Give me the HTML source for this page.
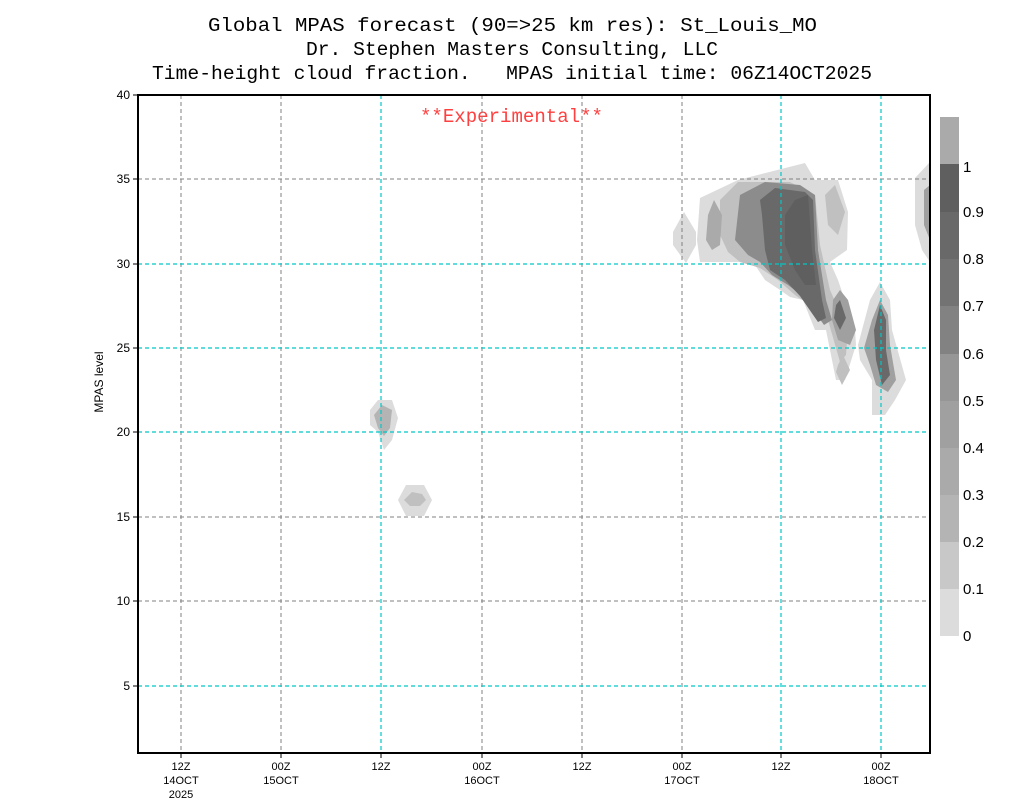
<!DOCTYPE html>
<html><head><style>
body{margin:0;background:#fff;}
svg{display:block;font-family:"Liberation Sans",sans-serif;}
</style></head><body>
<svg width="1024" height="800" viewBox="0 0 1024 800" xmlns="http://www.w3.org/2000/svg">
<rect width="1024" height="800" fill="#fff"/>
<g font-size="19" fill="#000" font-family="Liberation Mono, monospace">
<text x="208" y="31" textLength="609" lengthAdjust="spacingAndGlyphs">Global MPAS forecast (90=&gt;25 km res): St_Louis_MO</text>
<text x="306" y="55" textLength="412" lengthAdjust="spacingAndGlyphs">Dr. Stephen Masters Consulting, LLC</text>
<text x="152" y="79" textLength="720" lengthAdjust="spacingAndGlyphs" xml:space="preserve">Time-height cloud fraction.   MPAS initial time: 06Z14OCT2025</text>
</g>
<text x="420" y="122" font-size="19" fill="#ff4040" font-family="Liberation Mono, monospace" textLength="183" lengthAdjust="spacingAndGlyphs">**Experimental**</text>
<!-- clouds -->
<g>
<polygon points="673,232 684,212 696,232 696,245 686,263 673,245" fill="#dcdcdc"/>
<polygon points="700,198 738,180 805,163 815,180 828,180 838,180 848,212 847,250 830,262 838,280 855,330 856,345 845,380 836,380 826,330 815,330 803,300 790,297 780,290 765,280 755,265 740,262 700,262 697,240" fill="#dcdcdc"/>
<polygon points="720,200 738,182 790,182 815,195 820,245 830,290 848,330 846,355 840,362 828,320 810,305 795,295 778,280 760,268 740,262 728,252 720,235" fill="#c0c0c0"/>
<polygon points="708,215 714,200 722,215 720,245 712,250 706,240" fill="#aaaaaa"/>
<polygon points="825,195 835,185 845,212 838,235 828,225" fill="#c0c0c0"/>
<polygon points="740,195 765,182 800,185 815,195 818,250 826,300 832,320 824,325 805,298 788,285 772,275 760,262 748,255 735,240" fill="#8c8c8c"/>
<polygon points="760,200 775,188 805,192 813,200 815,250 822,300 826,318 818,322 800,296 785,280 770,270 765,250 762,215" fill="#696969"/>
<polygon points="785,215 795,200 808,195 812,250 816,285 805,285 795,270 785,245" fill="#5f5f5f"/>
<polygon points="915,178 930,162 930,262 922,250 915,225" fill="#dcdcdc"/>
<polygon points="924,190 930,185 930,240 924,225" fill="#a0a0a0"/>
<polygon points="833,300 840,290 848,300 856,330 850,345 838,340 832,320" fill="#a0a0a0"/>
<polygon points="836,305 840,300 846,318 840,330 834,318" fill="#696969"/>
<polygon points="838,365 843,355 850,370 842,385 836,372" fill="#c0c0c0"/>
<polygon points="858,345 870,300 880,282 890,300 892,330 906,380 895,400 885,415 872,415 872,380 860,360" fill="#dcdcdc"/>
<polygon points="864,348 872,320 880,300 888,315 890,345 896,380 888,392 876,385 870,365" fill="#a0a0a0"/>
<polygon points="874,330 880,305 886,320 886,350 890,375 882,385 876,360" fill="#696969"/>
<polygon points="370,410 378,400 392,400 398,418 392,440 384,450 378,432 370,425" fill="#dcdcdc"/>
<polygon points="374,415 382,405 392,410 390,428 384,436 378,428" fill="#b4b4b4"/>
<polygon points="398,500 406,485 424,485 432,500 424,516 406,516" fill="#dcdcdc"/>
<polygon points="404,500 412,492 422,494 426,500 420,506 410,506" fill="#c0c0c0"/>
</g>
<!-- grid -->
<g stroke="#808080" stroke-dasharray="4,3" stroke-width="1">
<line x1="181" y1="95" x2="181" y2="753"/><line x1="281" y1="95" x2="281" y2="753"/>
<line x1="482" y1="95" x2="482" y2="753"/><line x1="582" y1="95" x2="582" y2="753"/>
<line x1="682" y1="95" x2="682" y2="753"/>
<line x1="138" y1="179" x2="930" y2="179"/><line x1="138" y1="601" x2="930" y2="601"/>
<line x1="138" y1="517" x2="930" y2="517"/>
</g>
<g stroke="#00c8c8" stroke-dasharray="4,3" stroke-width="1.2">
<line x1="381" y1="95" x2="381" y2="753"/><line x1="781" y1="95" x2="781" y2="753"/>
<line x1="881" y1="95" x2="881" y2="753"/>
<line x1="138" y1="264" x2="930" y2="264"/><line x1="138" y1="348" x2="930" y2="348"/>
<line x1="138" y1="432" x2="930" y2="432"/><line x1="138" y1="686" x2="930" y2="686"/>
</g>
<rect x="138" y="95" width="792" height="658" fill="none" stroke="#000" stroke-width="2"/>
<g stroke="#000">
<line x1="133" y1="95" x2="138" y2="95"/><line x1="133" y1="179" x2="138" y2="179"/>
<line x1="133" y1="264" x2="138" y2="264"/><line x1="133" y1="348" x2="138" y2="348"/>
<line x1="133" y1="432" x2="138" y2="432"/><line x1="133" y1="517" x2="138" y2="517"/>
<line x1="133" y1="601" x2="138" y2="601"/><line x1="133" y1="686" x2="138" y2="686"/>
<line x1="181" y1="753" x2="181" y2="758"/><line x1="281" y1="753" x2="281" y2="758"/>
<line x1="381" y1="753" x2="381" y2="758"/><line x1="482" y1="753" x2="482" y2="758"/>
<line x1="582" y1="753" x2="582" y2="758"/><line x1="682" y1="753" x2="682" y2="758"/>
<line x1="781" y1="753" x2="781" y2="758"/><line x1="881" y1="753" x2="881" y2="758"/>
</g>
<g font-size="12" text-anchor="end">
<text x="130" y="99">40</text><text x="130" y="183">35</text><text x="130" y="268">30</text>
<text x="130" y="352">25</text><text x="130" y="436">20</text><text x="130" y="521">15</text>
<text x="130" y="605">10</text><text x="130" y="690">5</text>
</g>
<text x="103" y="382" font-size="12" text-anchor="middle" transform="rotate(-90 103 382)">MPAS level</text>
<g font-size="11" text-anchor="middle">
<text x="181" y="770">12Z</text><text x="181" y="784">14OCT</text><text x="181" y="798">2025</text>
<text x="281" y="770">00Z</text><text x="281" y="784">15OCT</text>
<text x="381" y="770">12Z</text>
<text x="482" y="770">00Z</text><text x="482" y="784">16OCT</text>
<text x="582" y="770">12Z</text>
<text x="682" y="770">00Z</text><text x="682" y="784">17OCT</text>
<text x="781" y="770">12Z</text>
<text x="881" y="770">00Z</text><text x="881" y="784">18OCT</text>
</g>
<!-- colorbar -->
<g>
<rect x="940" y="589" width="19" height="47" fill="#dcdcdc"/>
<rect x="940" y="542" width="19" height="47" fill="#c8c8c8"/>
<rect x="940" y="495" width="19" height="47" fill="#b4b4b4"/>
<rect x="940" y="448" width="19" height="47" fill="#aaaaaa"/>
<rect x="940" y="401" width="19" height="47" fill="#a0a0a0"/>
<rect x="940" y="354" width="19" height="47" fill="#969696"/>
<rect x="940" y="306" width="19" height="48" fill="#828282"/>
<rect x="940" y="259" width="19" height="47" fill="#737373"/>
<rect x="940" y="212" width="19" height="47" fill="#696969"/>
<rect x="940" y="164" width="19" height="48" fill="#5f5f5f"/>
<rect x="940" y="117" width="19" height="47" fill="#aaaaaa"/>
</g>
<g font-size="15">
<text x="963" y="641">0</text><text x="963" y="594">0.1</text><text x="963" y="547">0.2</text>
<text x="963" y="500">0.3</text><text x="963" y="453">0.4</text><text x="963" y="406">0.5</text>
<text x="963" y="359">0.6</text><text x="963" y="311">0.7</text><text x="963" y="264">0.8</text>
<text x="963" y="217">0.9</text><text x="963" y="172">1</text>
</g>
</svg>
</body></html>
